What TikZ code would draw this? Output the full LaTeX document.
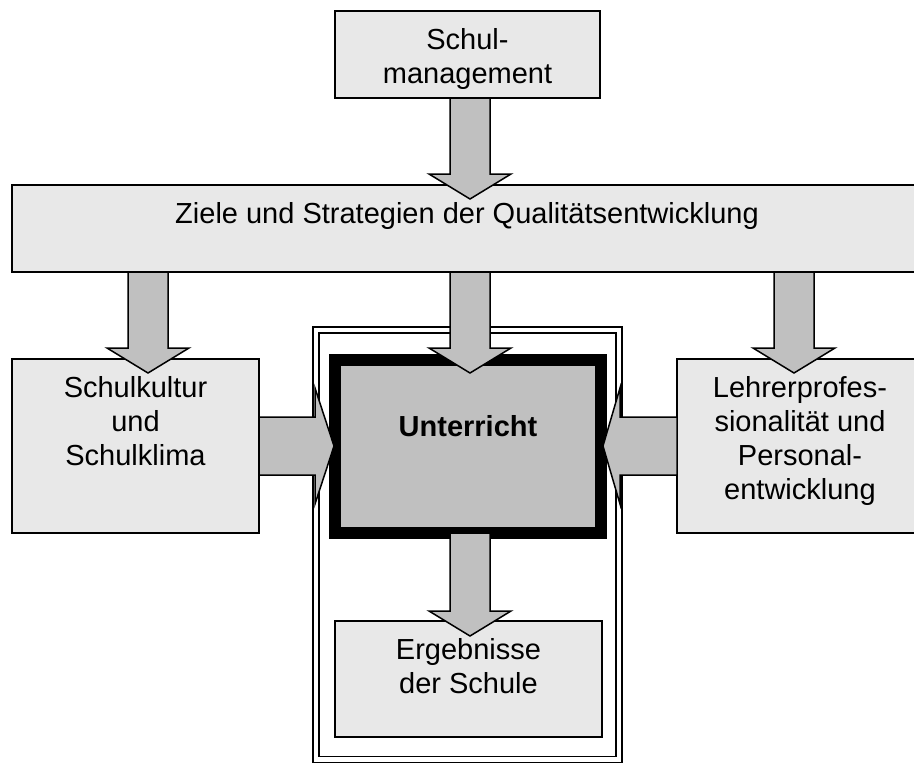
\documentclass[tikz,border=0pt]{standalone}
\usepackage{fontspec}
\setmainfont{Liberation Sans}
\usepackage{xcolor}
\usepackage{tikz}
\usetikzlibrary{calc}

\definecolor{boxgrey}{RGB}{232,232,232}
\definecolor{arrgrey}{RGB}{192,192,192}

% text block at the top of a box: width, height, first baseline, lines
\newcommand{\toptext}[4]{\parbox[c][#2][t]{#1}{\centering\rule{0pt}{#3}#4}}
% broad arrows: start node anchor, tip coordinate
\newcommand{\vblock}[2]{%
	\draw[blockarr] let \p1=(#1), \p2=(#2) in
	(\x2-20pt,\y1) -- (\x2-20pt,\y2+25pt) -- (\x2-41pt,\y2+25pt) -- (\x2,\y2)
	-- (\x2+41pt,\y2+25pt) -- (\x2+20pt,\y2+25pt) -- (\x2+20pt,\y1) -- cycle;}
\newcommand{\hblock}[3]{%
	\draw[blockarr] let \p1=(#1), \p2=(#2) in
	(\x1,\y2+29pt) -- ({\x2-(#3)},\y2+29pt) -- ({\x2-(#3)},\y2+58pt) -- (\x2,\y2)
	-- ({\x2-(#3)},\y2-58pt) -- ({\x2-(#3)},\y2-29pt) -- (\x1,\y2-29pt) -- cycle;}

\tikzset{
	greybox/.style={draw=black, line width=1.6pt, fill=boxgrey, inner sep=0pt,
		outer sep=0pt, font=\fontsize{29}{34}\selectfont},
	corebox/.style={greybox, line width=12pt, fill=arrgrey,
		font=\fontsize{29}{34}\selectfont\bfseries},
	framebox/.style={draw=black, line width=1.5pt, double=white, double distance=4.5pt,
		inner sep=0pt, outer sep=0pt, minimum width=303pt, minimum height=429.5pt},
	blockarr/.style={draw=black, line width=1.5pt, fill=arrgrey, line join=miter}
}

\begin{document}
\begin{tikzpicture}[x=1pt,y=-1pt]
	\useasboundingbox (0,0) rectangle (914,764);
	%
	\node[framebox] (rahmen) at (467.5,544.75) {};
	\node[greybox] (mgmt) at (467.5,54.5) {\toptext{265pt}{87pt}{38pt}{Schul-\\management}};
	\node[greybox] (ziele) at (467,228.5) {\toptext{910pt}{87pt}{38pt}{Ziele und Strategien der Qualitätsentwicklung}};
	\node[greybox] (kultur) at (135.5,446) {\toptext{247pt}{174pt}{38pt}{Schulkultur\\und\\Schulklima}};
	\node[greybox] (lehrer) at (800,446) {\toptext{246pt}{174pt}{38pt}{Lehrerprofes-\\sionalität und\\Personal-\\entwicklung}};
	\node[corebox] (unterricht) at (468,446.5) {\toptext{266pt}{173pt}{76pt}{Unterricht}};
	\node[greybox] (ergebnis) at (468.5,679) {\toptext{267pt}{116pt}{38pt}{Ergebnisse\\der Schule}};
	%
	\coordinate (tipZ) at (470,199);
	\coordinate (tipK) at (148,373);
	\coordinate (tipU) at (470,373);
	\coordinate (tipL) at (794,373);
	\coordinate (tipE) at (470,636);
	\coordinate (tipKU) at (334,446);
	\coordinate (tipLU) at (603,446);
	%
	\vblock{mgmt.south}{tipZ}
	\vblock{ziele.south}{tipK}
	\vblock{ziele.south}{tipU}
	\vblock{ziele.south}{tipL}
	\vblock{unterricht.south}{tipE}
	\hblock{kultur.east}{tipKU}{19pt}
	\hblock{lehrer.west}{tipLU}{-17pt}
\end{tikzpicture}
\end{document}
